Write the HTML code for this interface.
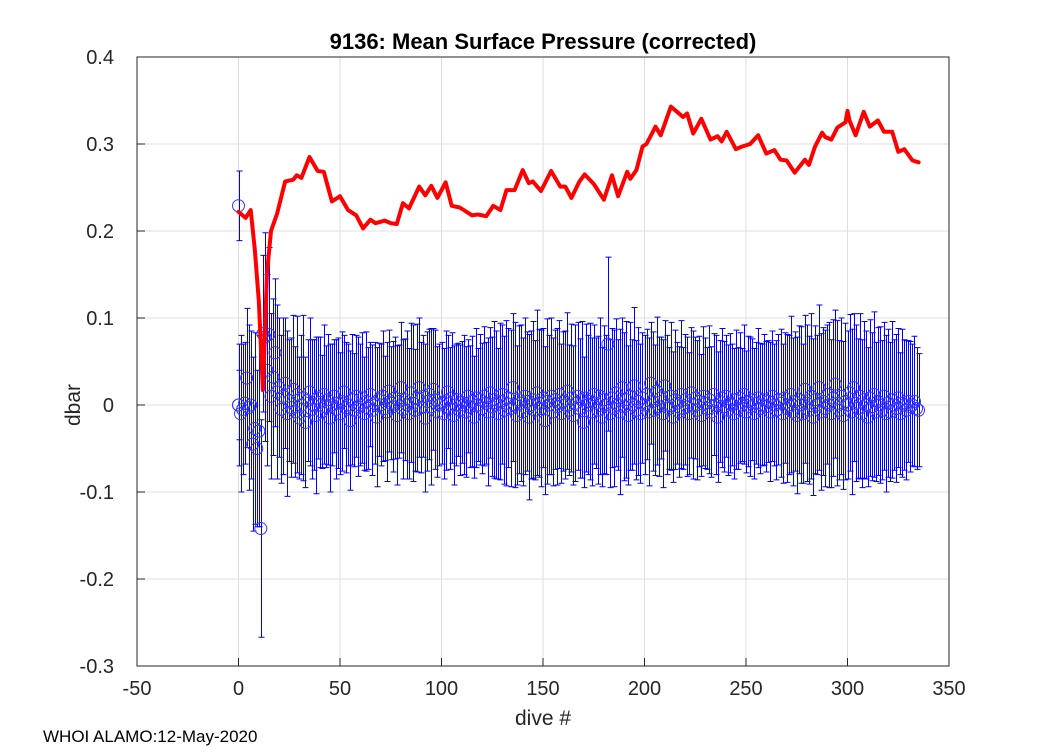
<!DOCTYPE html>
<html><head><meta charset="utf-8"><style>
html,body{margin:0;padding:0;background:#fff;}
svg text{font-family:"Liberation Sans",Arial,sans-serif;fill:#262626;}
</style></head><body>
<svg id="chart" width="1050" height="750" xmlns="http://www.w3.org/2000/svg">
<rect width="1050" height="750" fill="#fff"/>
<g id="grid"></g>
<g id="bars"></g>
<g id="circles"></g>
<g id="red"></g>
<g id="axes"></g>
<text x="543" y="49" text-anchor="middle" font-size="22" font-weight="bold" style="fill:#000">9136: Mean Surface Pressure (corrected)</text>
<text x="543" y="725" text-anchor="middle" font-size="21">dive #</text>
<text transform="translate(80,405) rotate(-90)" text-anchor="middle" font-size="21">dbar</text>
<text x="43" y="742" font-size="17" style="fill:#000">WHOI ALAMO:12-May-2020</text>
</svg>
<script>
const xTicks=[-50,0,50,100,150,200,250,300,350];
const yTicks=[-0.3,-0.2,-0.1,0,0.1,0.2,0.3,0.4];
const yTickLabels=["-0.3","-0.2","-0.1","0","0.1","0.2","0.3","0.4"];
const redX=[0,3.5,6,8,10,11,12,13,14,16,19,23,27,28.6,31,35,39,42,46,50,54,58,61.4,65,67.5,72,75,78,81,84,89,92,95,98,102,105,109,115,118,122,125.5,129,132,136,140,143,145,149,154,158.5,161,164,168,170.5,175,180,184,187,191.5,193,196,199,201,205.4,208,213,216,219,221,224,228,232.5,236,238,240.5,245,248,252,256,260,264,267,270,274,279,281,284,287.5,289,292,295,297,299,300,301,304,308,311,315,318,322,325,328,332,335];
const redY=[0.222,0.215,0.224,0.18,0.12,0.07,0.017,0.08,0.15,0.2,0.22,0.257,0.259,0.264,0.261,0.285,0.269,0.268,0.234,0.240,0.224,0.218,0.203,0.213,0.209,0.212,0.209,0.208,0.232,0.226,0.251,0.241,0.252,0.238,0.256,0.229,0.227,0.218,0.219,0.217,0.229,0.224,0.247,0.247,0.270,0.255,0.257,0.246,0.269,0.251,0.251,0.238,0.257,0.265,0.254,0.236,0.264,0.240,0.268,0.260,0.270,0.297,0.300,0.320,0.310,0.343,0.337,0.331,0.335,0.312,0.329,0.305,0.309,0.303,0.314,0.294,0.297,0.300,0.310,0.289,0.293,0.282,0.281,0.267,0.282,0.276,0.297,0.313,0.308,0.305,0.319,0.322,0.325,0.338,0.327,0.310,0.337,0.320,0.327,0.314,0.314,0.291,0.294,0.281,0.279];
const meanVals=[0,-10,-5,2,31,-3,0,-45,-27,-50,-30,-142,82,78,40,81,10,32,60,15,
20,-5,10,25,-10,5,-3,18,-8,12,-15,0,8,-20,5,15,-5,0,-12,8,
3,-8,12,-2,6,-15,0,10,-5,2,-10,4,15,-3,0,-18,6,-6,10,-2,
0,8,-10,4,-4,12,-6,2,-14,6,0,10,-4,-8,16,2,-2,8,-12,4,
20,-5,6,0,-10,14,2,-6,8,20,-3,10,-15,4,12,-2,18,6,-8,0,
2,-10,5,15,-4,8,-12,0,6,-6,3,0,-8,10,-2,4,-14,8,0,6,
-4,10,2,-8,14,-2,6,0,-10,4,12,-6,2,8,-4,20,0,-12,6,2,
-8,10,4,-14,0,6,-6,14,2,-4,8,-18,4,0,10,-8,6,-2,12,-10,
4,0,16,-6,8,-12,2,10,-4,6,-20,8,0,4,-8,12,2,-6,10,-14,
6,0,70,-10,8,-4,14,0,-8,20,-2,6,-12,10,0,22,-6,4,-10,8,
0,12,-8,25,4,-6,16,-2,8,-10,22,0,-4,10,-14,6,2,-8,12,-4,
6,-2,-10,14,0,8,-6,4,-12,10,2,-4,6,-8,12,0,-14,4,8,-2,
10,-6,2,0,-10,6,-4,8,0,12,-8,4,-2,6,-10,2,8,-4,0,6,
-2,4,-8,10,0,-6,6,2,-10,8,-4,0,12,-8,4,-12,6,0,-10,18,
2,-6,10,-14,6,0,20,-8,4,-4,12,0,-10,8,24,2,-6,10,-12,4,
0,14,-8,20,2,-4,10,-10,6,0,-14,8,-2,12,-8,4,0,-6,10,-10,
2,-8,6,0,-4,8,-10,2,0,-6,4,-2,0,4,-4,-6];
const errVals=[40,90,75,70,80,95,85,100,110,90,110,125,90,120,110,100,95,90,85,100,
80,85,90,75,95,70,80,85,75,90,70,80,95,75,70,85,80,75,90,70,
75,65,80,70,75,85,70,65,80,75,70,80,65,75,70,80,75,65,70,80,
70,75,65,80,70,60,75,70,80,65,70,75,60,80,70,65,75,70,80,65,
75,80,70,85,75,80,90,70,85,80,75,70,85,80,75,90,70,80,75,70,
70,75,80,65,70,75,80,70,65,75,70,80,75,65,70,75,70,80,65,75,
75,80,70,85,75,80,90,85,75,90,80,85,95,80,90,85,95,80,85,90,
85,90,80,95,85,90,80,95,85,90,80,85,95,80,90,85,80,90,85,80,
80,85,90,75,85,80,90,85,80,90,75,85,80,90,85,80,75,85,90,80,
85,80,100,85,80,90,85,75,95,80,85,90,80,85,75,90,80,85,80,75,
80,75,85,70,80,75,85,80,70,85,75,80,70,85,75,80,70,75,85,70,
75,80,70,75,85,70,80,75,70,80,75,70,85,75,70,80,75,70,80,75,
70,75,80,70,75,80,70,75,65,80,70,75,80,70,75,70,80,75,70,75,
75,70,80,75,70,80,75,85,80,75,85,80,90,85,80,90,85,90,80,85,
90,85,95,90,85,80,95,90,85,90,80,95,85,90,85,95,80,90,85,90,
85,90,95,85,90,80,95,85,90,85,80,90,85,95,80,85,90,80,85,90,
85,80,90,75,85,80,70,85,75,80,70,75,70,75,70,65];
const extraX=[0,0];
const extraY=[0.229,0];
const extraErr=[0.04,0.07];

const X0=137,X1=949,Y0=57,Y1=666;
const xs=v=>X0+(v+50)/400*(X1-X0);
const ys=v=>Y1-(v+0.3)/0.7*(Y1-Y0);
const NS="http://www.w3.org/2000/svg";
function mk(tag,attrs,parent){const e=document.createElementNS(NS,tag);for(const k in attrs)e.setAttribute(k,attrs[k]);parent.appendChild(e);return e;}
const grid=document.getElementById('grid'),axes=document.getElementById('axes');
const bars=document.getElementById('bars'),circ=document.getElementById('circles'),red=document.getElementById('red');

xTicks.forEach(t=>{
  const g=mk('line',{x1:xs(t),x2:xs(t),y1:Y0,y2:Y1,stroke:'#dfdfdf','stroke-width':1},grid);
  
  
  const tk=mk('line',{x1:xs(t),x2:xs(t),y1:Y1,y2:Y1-8,stroke:'#262626','stroke-width':1},axes);
  
  
  const tx=mk('text',{x:xs(t),y:Y1+29,'text-anchor':'middle','font-size':20},axes);
  tx.textContent=String(t);
  
  
});
yTicks.forEach((t,i)=>{
  const g=mk('line',{x1:X0,x2:X1,y1:ys(t),y2:ys(t),stroke:'#dfdfdf','stroke-width':1},grid);
  
  
  const tk=mk('line',{x1:X0,x2:X0+8,y1:ys(t),y2:ys(t),stroke:'#262626','stroke-width':1},axes);
  
  
  const tx=mk('text',{x:X0-23,y:ys(t)+7,'text-anchor':'end','font-size':20},axes);
  tx.textContent=yTickLabels[i];
  
  
});
const box=mk('rect',{x:X0,y:Y0,width:X1-X0,height:Y1-Y0,fill:'none',stroke:'#262626','stroke-width':1},axes);



function drawBar(x,y,e){
  const px=Math.round(xs(x))+0.5, top=ys(y+e), bot=ys(y-e);
  let d=`M${px},${top}L${px},${bot}M${px-3},${top}L${px+3},${top}M${px-3},${bot}L${px+3},${bot}`;
  const p=mk('path',{d:d,stroke:'#0000ff','stroke-width':1,fill:'none'},bars);
  
  
}
function drawCircle(x,y){
  const c=mk('circle',{cx:xs(x),cy:ys(y),r:6,fill:'none',stroke:'#3333ff','stroke-width':1},circ);
  
  
}
meanVals.forEach((v,i)=>drawBar(i,v/1000,errVals[i]/1000));
extraX.forEach((x,i)=>drawBar(x,extraY[i],extraErr[i]));
meanVals.forEach((v,i)=>drawCircle(i,v/1000));
extraX.forEach((x,i)=>drawCircle(x,extraY[i]));

const pts=redX.map((x,i)=>xs(x).toFixed(1)+','+ys(redY[i]).toFixed(1)).join(' ');
const pl=mk('polyline',{points:pts,fill:'none',stroke:'#ff0000','stroke-width':4,'stroke-linejoin':'round','stroke-linecap':'round'},red);


</script>
</body></html>
